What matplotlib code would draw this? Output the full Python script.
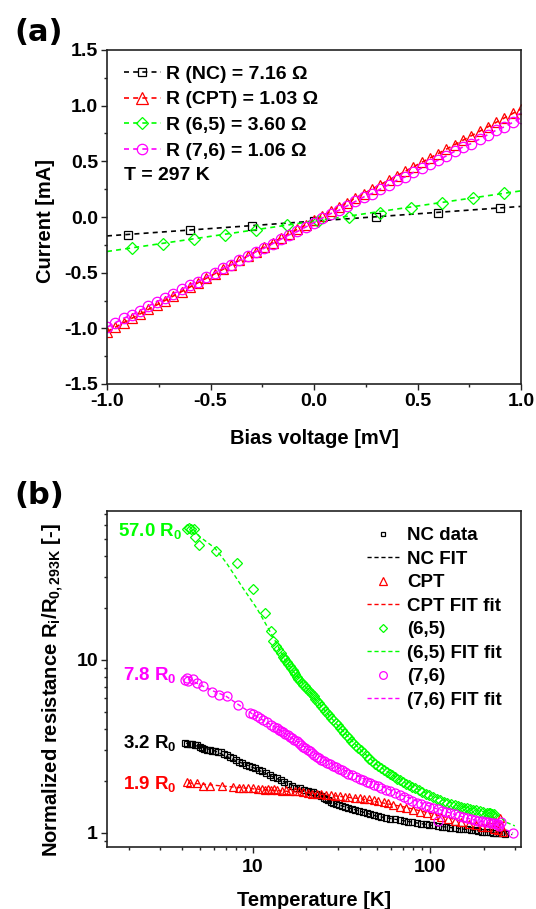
import matplotlib
matplotlib.use('Agg')
import matplotlib.pyplot as plt
from matplotlib.lines import Line2D
from matplotlib.ticker import MultipleLocator, FixedLocator, FixedFormatter, NullFormatter, FormatStrFormatter

plt.rcParams['font.family'] = ['Liberation Sans', 'DejaVu Sans']
plt.rcParams['font.weight'] = 'bold'
plt.rcParams['mathtext.fontset'] = 'custom'
plt.rcParams['mathtext.rm'] = 'Liberation Sans:bold'
plt.rcParams['mathtext.it'] = 'Liberation Sans:bold'
plt.rcParams['mathtext.bf'] = 'Liberation Sans:bold'
plt.rcParams['mathtext.default'] = 'rm'

# ---------------- panel (a) data ----------------
V_fit = [-1.0, 1.0]
V_nc = [-0.9, -0.6, -0.3, 0.0, 0.3, 0.6, 0.9]
I_nc = [-0.16, -0.12, -0.08, -0.035, 0.0, 0.04, 0.08]
I_nc_fit = [-0.17, 0.095]

V_65 = [-0.88, -0.73, -0.58, -0.43, -0.28, -0.13, 0.02, 0.17, 0.32, 0.47, 0.62, 0.77, 0.92]
I_65 = [-0.28, -0.24, -0.20, -0.16, -0.115, -0.07, -0.035, 0.0, 0.04, 0.085, 0.13, 0.17, 0.215]
I_65_fit = [-0.31, 0.235]

V_dense = [-1.00, -0.96, -0.92, -0.88, -0.84, -0.80, -0.76, -0.72, -0.68, -0.64,
           -0.60, -0.56, -0.52, -0.48, -0.44, -0.40, -0.36, -0.32, -0.28, -0.24,
           -0.20, -0.16, -0.12, -0.08, -0.04, 0.00, 0.04, 0.08, 0.12, 0.16,
           0.20, 0.24, 0.28, 0.32, 0.36, 0.40, 0.44, 0.48, 0.52, 0.56,
           0.60, 0.64, 0.68, 0.72, 0.76, 0.80, 0.84, 0.88, 0.92, 0.96, 1.00]
I_cpt = [-1.03, -0.99, -0.95, -0.91, -0.87, -0.83, -0.79, -0.75, -0.71, -0.67,
         -0.63, -0.59, -0.55, -0.51, -0.47, -0.43, -0.39, -0.35, -0.31, -0.27,
         -0.23, -0.19, -0.15, -0.11, -0.07, -0.03, 0.01, 0.05, 0.09, 0.13,
         0.17, 0.21, 0.25, 0.29, 0.33, 0.37, 0.41, 0.45, 0.49, 0.53,
         0.57, 0.61, 0.65, 0.69, 0.73, 0.77, 0.81, 0.85, 0.89, 0.93, 0.97]
I_76 = [-0.99, -0.95, -0.91, -0.88, -0.84, -0.80, -0.76, -0.73, -0.69, -0.65,
        -0.61, -0.58, -0.54, -0.50, -0.46, -0.43, -0.39, -0.35, -0.31, -0.28,
        -0.24, -0.20, -0.16, -0.13, -0.09, -0.05, -0.01, 0.03, 0.06, 0.10,
        0.14, 0.18, 0.21, 0.25, 0.29, 0.33, 0.36, 0.40, 0.44, 0.48,
        0.51, 0.55, 0.59, 0.63, 0.66, 0.70, 0.74, 0.78, 0.81, 0.85, 0.89]

labels_a = ['R (NC) = 7.16 \u03a9', 'R (CPT) = 1.03 \u03a9',
            'R (6,5) = 3.60 \u03a9', 'R (7,6) = 1.06 \u03a9']

# ---------------- panel (b) data ----------------
T_nc = [4.13, 4.25, 4.40, 4.55, 4.70, 4.85, 5.00, 5.15, 5.30, 5.50, 5.70, 5.90, 6.10,
        6.35, 6.60, 6.85, 7.10, 7.40, 7.70, 8.00, 8.35, 8.70, 9.10, 9.50, 9.90, 10.3,
        10.8, 11.3, 11.8, 12.4, 13.0, 13.6, 14.3, 15.0, 15.8, 16.6, 17.5, 18.4, 19.4,
        20.5, 21.2, 21.9, 22.7, 23.5, 24.2, 25.0, 25.7, 26.5, 27.4, 28.4, 29.4, 30.5,
        31.7, 33.0, 34.5, 36.0, 37.7, 39.5, 41.6, 43.9, 45.9, 48.0, 50.4, 53.0, 55.9,
        59.0, 63.0, 67.6, 71.0, 75.0, 79.0, 84.0, 89.0, 94.0, 99.0, 104, 110, 116, 123,
        130, 137, 145, 153, 161, 170, 178, 187, 196, 207, 218, 226, 235, 243, 250, 258, 265]
R_nc = [3.30, 3.28, 3.27, 3.25, 3.24, 3.22, 3.14, 3.08, 3.04, 3.02, 3.01, 2.99, 2.97,
        2.95, 2.93, 2.88, 2.83, 2.76, 2.70, 2.64, 2.58, 2.53, 2.48, 2.44, 2.40, 2.36,
        2.31, 2.27, 2.22, 2.16, 2.12, 2.07, 2.02, 1.97, 1.92, 1.87, 1.83, 1.81, 1.78,
        1.75, 1.73, 1.72, 1.69, 1.66, 1.63, 1.60, 1.58, 1.55, 1.52, 1.49, 1.47, 1.45,
        1.43, 1.41, 1.39, 1.37, 1.355, 1.34, 1.32, 1.30, 1.285, 1.27, 1.255, 1.24, 1.225,
        1.21, 1.20, 1.19, 1.175, 1.16, 1.15, 1.14, 1.13, 1.12, 1.115, 1.11, 1.10, 1.09, 1.08,
        1.07, 1.065, 1.06, 1.055, 1.05, 1.045, 1.04, 1.03, 1.02, 1.015, 1.01, 1.005, 1.00, 1.00, 1.00, 0.995, 0.99]
T_nc_fit = [4.2, 6.0, 8.0, 10.0, 15.0, 20.0, 30.0, 50.0, 100.0, 200.0, 290.0]
R_nc_fit = [3.30, 3.00, 2.62, 2.39, 1.97, 1.76, 1.46, 1.25, 1.11, 1.02, 0.98]

T_cpt = [4.26, 4.40, 4.81, 5.25, 5.70, 6.66, 7.74, 8.30, 8.80, 9.40, 10.0, 10.6, 11.2,
         11.7, 12.1, 12.6, 13.1, 13.6, 14.5, 15.4, 16.2, 17.2, 18.2, 19.2, 20.3, 21.5,
         22.9, 24.3, 25.8, 27.4, 29.1, 31.0, 33.0, 35.0, 37.5, 40.0, 42.5, 45.0, 48.0,
         51.0, 54.6, 58.0, 62.0, 67.6, 73.0, 80.0, 88.0, 96.0, 105, 115, 126, 138, 150,
         165, 180, 195, 210, 222, 230, 236, 242, 248, 252, 256]
R_cpt = [1.98, 1.95, 1.94, 1.87, 1.87, 1.87, 1.84, 1.82, 1.81, 1.81, 1.81, 1.79, 1.80,
         1.78, 1.80, 1.77, 1.79, 1.78, 1.76, 1.77, 1.76, 1.75, 1.74, 1.72, 1.71, 1.69,
         1.67, 1.67, 1.66, 1.65, 1.64, 1.63, 1.62, 1.61, 1.60, 1.59, 1.58, 1.57, 1.55,
         1.54, 1.52, 1.49, 1.46, 1.42, 1.39, 1.36, 1.33, 1.30, 1.27, 1.24, 1.21, 1.18, 1.16,
         1.13, 1.11, 1.09, 1.08, 1.20, 1.06, 1.16, 1.04, 1.22, 1.10, 1.02]
T_cpt_fit = [4.3, 10.0, 20.0, 40.0, 70.0, 100.0, 150.0, 200.0, 260.0]
R_cpt_fit = [1.95, 1.80, 1.71, 1.58, 1.42, 1.30, 1.17, 1.10, 1.05]

T_65 = [4.26, 4.35, 4.45, 4.66, 4.70, 4.98, 6.15, 8.09, 10.0, 11.7, 12.6, 13.0, 13.5,
        13.9, 14.3, 14.7, 15.0, 15.2, 15.5, 15.8, 16.1, 16.4, 16.7, 17.0, 17.3, 17.7,
        18.0, 18.4, 18.8, 19.2, 19.6, 20.0, 20.5, 21.0, 21.5, 22.0, 22.5, 23.1, 23.7,
        24.3, 24.9, 25.5, 26.2, 26.9, 27.6, 28.4, 29.2, 30.0, 30.9, 31.8, 32.7, 33.7,
        34.7, 35.7, 36.8, 38.0, 39.2, 40.5, 42.2, 43.9, 45.4, 47.0, 48.7, 50.5, 52.5,
        54.5, 56.7, 59.0, 61.0, 63.0, 65.3, 67.6, 70.2, 73.0, 76.0, 79.0, 82.5, 86.0,
        90.0, 94.0, 99.0, 104, 109, 114, 119, 125, 131, 138, 144, 150, 155, 161, 168,
        175, 182, 190, 199, 209, 214, 218, 224, 230]
R_65 = [57.5, 58.0, 57.0, 57.1, 51.2, 46.2, 42.8, 36.5, 25.7, 18.6, 14.7, 12.8, 12.0,
        11.5, 11.0, 10.45, 10.2, 10.0, 9.75, 9.5, 9.25, 9.0, 8.75, 8.5, 8.25, 8.0,
        7.8, 7.6, 7.4, 7.2, 7.05, 6.9, 6.7, 6.5, 6.32, 6.15, 5.98, 5.8, 5.62,
        5.45, 5.28, 5.1, 4.95, 4.8, 4.65, 4.5, 4.35, 4.2, 4.06, 3.92, 3.78, 3.65,
        3.53, 3.42, 3.31, 3.2, 3.1, 3.0, 2.89, 2.78, 2.69, 2.6, 2.52, 2.45, 2.38,
        2.32, 2.26, 2.2, 2.15, 2.1, 2.06, 2.02, 1.97, 1.93, 1.89, 1.85, 1.81, 1.77,
        1.73, 1.69, 1.65, 1.62, 1.58, 1.55, 1.52, 1.50, 1.47, 1.45, 1.43, 1.41, 1.40, 1.39, 1.37,
        1.36, 1.35, 1.34, 1.32, 1.31, 1.305, 1.30, 1.295, 1.29]
T_65_fit = [4.6, 5.0, 6.1, 7.1, 8.8, 10.5, 11.9, 13.5, 15.0, 17.0, 20.0, 25.0, 30.0,
            40.0, 50.0, 70.0, 100.0, 150.0, 200.0, 240.0, 270.0, 300.0]
R_65_fit = [57.0, 51.6, 44.3, 36.2, 25.9, 19.9, 15.9, 12.6, 10.2, 8.5, 6.9, 5.2, 4.2,
            3.05, 2.48, 1.98, 1.65, 1.42, 1.33, 1.27, 1.15, 1.10]

T_76 = [4.13, 4.26, 4.31, 4.60, 4.81, 5.20, 5.85, 6.40, 7.10, 8.26, 9.60, 10.0, 10.5,
        10.9, 11.4, 12.0, 12.7, 13.1, 13.6, 14.0, 14.4, 14.8, 15.2, 15.7, 16.2, 16.6,
        17.1, 17.6, 18.1, 18.6, 19.2, 19.7, 20.3, 20.9, 21.5, 22.2, 22.9, 23.6, 24.3,
        25.1, 26.0, 27.2, 28.4, 29.4, 30.5, 31.7, 33.0, 34.5, 36.0, 38.0, 40.0, 41.9,
        43.9, 45.9, 48.0, 50.4, 53.0, 55.9, 59.0, 63.0, 67.6, 71.0, 75.0, 79.0, 84.0,
        89.0, 94.0, 99.0, 104, 110, 110, 116, 123, 130, 137, 145, 153, 161, 170, 178,
        187, 196, 204, 212, 220, 228, 234, 240, 245, 250, 293]
R_76 = [7.66, 7.90, 7.60, 7.80, 7.33, 7.10, 6.56, 6.30, 6.20, 5.50, 4.92, 4.85, 4.75,
        4.62, 4.50, 4.40, 4.22, 4.12, 4.03, 3.96, 3.90, 3.82, 3.75, 3.68, 3.60, 3.52,
        3.45, 3.38, 3.30, 3.22, 3.15, 3.08, 3.02, 2.96, 2.90, 2.82, 2.75, 2.70, 2.65,
        2.60, 2.55, 2.50, 2.45, 2.40, 2.35, 2.30, 2.25, 2.20, 2.15, 2.10, 2.06, 2.02,
        1.98, 1.94, 1.90, 1.86, 1.82, 1.78, 1.75, 1.70, 1.66, 1.62, 1.58, 1.54, 1.50,
        1.47, 1.44, 1.41, 1.39, 1.18, 1.37, 1.34, 1.32, 1.30, 1.28, 1.26, 1.24, 1.22, 1.20, 1.19,
        1.18, 1.17, 1.16, 1.15, 1.145, 1.14, 1.13, 1.12, 1.10, 1.16, 1.00]
T_76_fit = [4.3, 5.0, 6.0, 7.0, 8.0, 10.0, 12.0, 15.0, 20.0, 30.0, 45.0, 70.0, 100.0,
            160.0, 230.0, 293.0]
R_76_fit = [7.8, 7.2, 6.6, 6.2, 5.65, 4.85, 4.35, 3.8, 3.1, 2.4, 2.0, 1.65, 1.42,
            1.22, 1.12, 1.00]

labels_b = ['NC data', 'NC FIT', 'CPT', 'CPT FIT fit', '(6,5)', '(6,5) FIT fit',
            '(7,6)', '(7,6) FIT fit']
ann_text = ['57.0 R$_0$', '7.8 R$_0$', '3.2 R$_0$', '1.9 R$_0$']
ann_T = [3.97, 3.72, 3.72, 3.72]
ann_R = [52.1, 7.66, 3.09, 1.80]

# ---------------- styling ----------------
C_K, C_R, C_G, C_M = '#000000', '#ff0000', '#00ff00', '#ff00ff'
W, H = 536, 909
fig = plt.figure(figsize=(W / 100, H / 100), dpi=100)
axA = fig.add_axes([107 / W, 1 - 384 / H, 414 / W, 334 / H])
axB = fig.add_axes([107 / W, 1 - 847 / H, 414 / W, 336 / H])

dash_a = (0, (3, 2.5))
dash_b = (0, (3, 2))
TICK_FS = 14
LAB_FS = 14.5

def style_axes(ax):
    for s in ax.spines.values():
        s.set_linewidth(1.2)
        s.set_color('#222222')
    ax.tick_params(which='both', direction='out', top=False, right=False,
                   labelsize=TICK_FS, color='#222222', width=1.0)
    ax.tick_params(which='major', length=4.5, pad=2)
    ax.tick_params(which='minor', length=2.5)
    for lab in ax.get_xticklabels() + ax.get_yticklabels():
        lab.set_fontweight('bold')

# ---- panel (a)
lw_a = 1.2
axA.plot(V_fit, I_nc_fit, color=C_K, ls=dash_a, lw=lw_a)
axA.plot(V_nc, I_nc, ls='none', marker='s', ms=5.5, mfc='none', mec=C_K, mew=0.9)
axA.plot(V_dense, I_cpt, color=C_R, ls=dash_a, lw=lw_a, marker='^', ms=7,
         mfc='none', mec=C_R, mew=0.9)
axA.plot(V_fit, I_65_fit, color=C_G, ls=dash_a, lw=lw_a)
axA.plot(V_65, I_65, ls='none', marker='D', ms=6.5, mfc='none', mec=C_G, mew=0.9)
axA.plot(V_dense, I_76, color=C_M, ls=dash_a, lw=lw_a, marker='o', ms=7.5,
         mfc='none', mec=C_M, mew=0.9)
axA.set_xlim(-1.0, 1.0)
axA.set_ylim(-1.5, 1.5)
axA.xaxis.set_major_locator(MultipleLocator(0.5))
axA.xaxis.set_minor_locator(MultipleLocator(0.25))
axA.yaxis.set_major_locator(MultipleLocator(0.5))
axA.yaxis.set_minor_locator(MultipleLocator(0.25))
axA.xaxis.set_major_formatter(FormatStrFormatter('%.1f'))
axA.yaxis.set_major_formatter(FormatStrFormatter('%.1f'))
style_axes(axA)
axA.set_xlabel('Bias voltage [mV]', fontsize=LAB_FS, fontweight='bold')
axA.set_ylabel('Current [mA]', fontsize=LAB_FS, fontweight='bold')
axA.xaxis.set_label_coords(0.5, -0.135)
axA.yaxis.set_label_coords(-0.125, 0.489)

hA = [Line2D([], [], color=C_K, ls=dash_a, lw=lw_a, marker='s', ms=5.5, mfc='none', mec=C_K, mew=0.9),
      Line2D([], [], color=C_R, ls=dash_a, lw=lw_a, marker='^', ms=8, mfc='none', mec=C_R, mew=0.9),
      Line2D([], [], color=C_G, ls=dash_a, lw=lw_a, marker='D', ms=6.5, mfc='none', mec=C_G, mew=0.9),
      Line2D([], [], color=C_M, ls=dash_a, lw=lw_a, marker='o', ms=7.5, mfc='none', mec=C_M, mew=0.9)]
legA = fig.legend(hA, labels_a, loc='upper left', bbox_to_anchor=(124 / W, 1 - 65 / H),
                  bbox_transform=fig.transFigure, frameon=False,
                  handlelength=1.9, handletextpad=0.28, labelspacing=0.42,
                  borderpad=0, borderaxespad=0, numpoints=1,
                  prop={'weight': 'bold', 'size': 14})
fig.text(124 / W, 1 - 175 / H, 'T = 297 K', fontsize=14, fontweight='bold',
         ha='left', va='center')

# ---- panel (b)
axB.set_xscale('log')
axB.set_yscale('log')
axB.plot(T_nc, R_nc, ls='none', marker='s', ms=4.2, mfc='none', mec=C_K, mew=0.9, label=labels_b[0])
axB.plot(T_nc_fit, R_nc_fit, color=C_K, ls=dash_b, lw=1.0, label=labels_b[1])
axB.plot(T_cpt, R_cpt, ls='none', marker='^', ms=6, mfc='none', mec=C_R, mew=0.9, label=labels_b[2])
axB.plot(T_cpt_fit, R_cpt_fit, color=C_R, ls=dash_b, lw=1.0, label=labels_b[3])
axB.plot(T_65, R_65, ls='none', marker='D', ms=5, mfc='none', mec=C_G, mew=0.9, label=labels_b[4])
axB.plot(T_65_fit, R_65_fit, color=C_G, ls=dash_b, lw=1.0, label=labels_b[5])
axB.plot(T_76, R_76, ls='none', marker='o', ms=6.5, mfc='none', mec=C_M, mew=0.9, label=labels_b[6])
axB.plot(T_76_fit, R_76_fit, color=C_M, ls=dash_b, lw=1.0, label=labels_b[7])
axB.set_xlim(1.5, 325)
axB.set_ylim(0.83, 72.6)
axB.xaxis.set_major_locator(FixedLocator([10, 100]))
axB.xaxis.set_major_formatter(FixedFormatter(['10', '100']))
axB.xaxis.set_minor_locator(FixedLocator([2, 3, 4, 5, 6, 7, 8, 9, 20, 30, 40, 50, 60, 70, 80, 90, 200, 300]))
axB.xaxis.set_minor_formatter(NullFormatter())
axB.yaxis.set_major_locator(FixedLocator([1, 10]))
axB.yaxis.set_major_formatter(FixedFormatter(['1', '10']))
axB.yaxis.set_minor_locator(FixedLocator([0.9, 2, 3, 4, 5, 6, 7, 8, 9, 20, 30, 40, 50, 60, 70]))
axB.yaxis.set_minor_formatter(NullFormatter())
style_axes(axB)
axB.tick_params(axis='x', which='major', pad=4)
axB.set_xlabel('Temperature [K]', fontsize=LAB_FS, fontweight='bold')
axB.set_ylabel('Normalized resistance R$_{i}$/R$_{0,293K}$ [-]', fontsize=LAB_FS, fontweight='bold')
axB.xaxis.set_label_coords(0.5, -0.13)
axB.yaxis.set_label_coords(-0.10, 0.467)

ann_colors = [C_G, C_M, C_K, C_R]
for t, x, y, c in zip(ann_text, ann_T, ann_R, ann_colors):
    axB.text(x, y, t, color=c, fontsize=13.5, fontweight='bold', ha='right', va='baseline')

legB = axB.legend(loc='upper left', bbox_to_anchor=(367 / W, 1 - 527 / H),
                  bbox_transform=fig.transFigure, frameon=False,
                  handlelength=1.72, handletextpad=0.42, labelspacing=0.34,
                  borderpad=0, borderaxespad=0, numpoints=1, markerscale=0.85,
                  prop={'weight': 'bold', 'size': 13.5})

fig.text(39 / W, 1 - 32.5 / H, '(a)', fontsize=22, fontweight='bold',
         family='DejaVu Sans', ha='center', va='center')
fig.text(39 / W, 1 - 495 / H, '(b)', fontsize=22, fontweight='bold',
         family='DejaVu Sans', ha='center', va='center')

fig.savefig('out.png', dpi=100)
